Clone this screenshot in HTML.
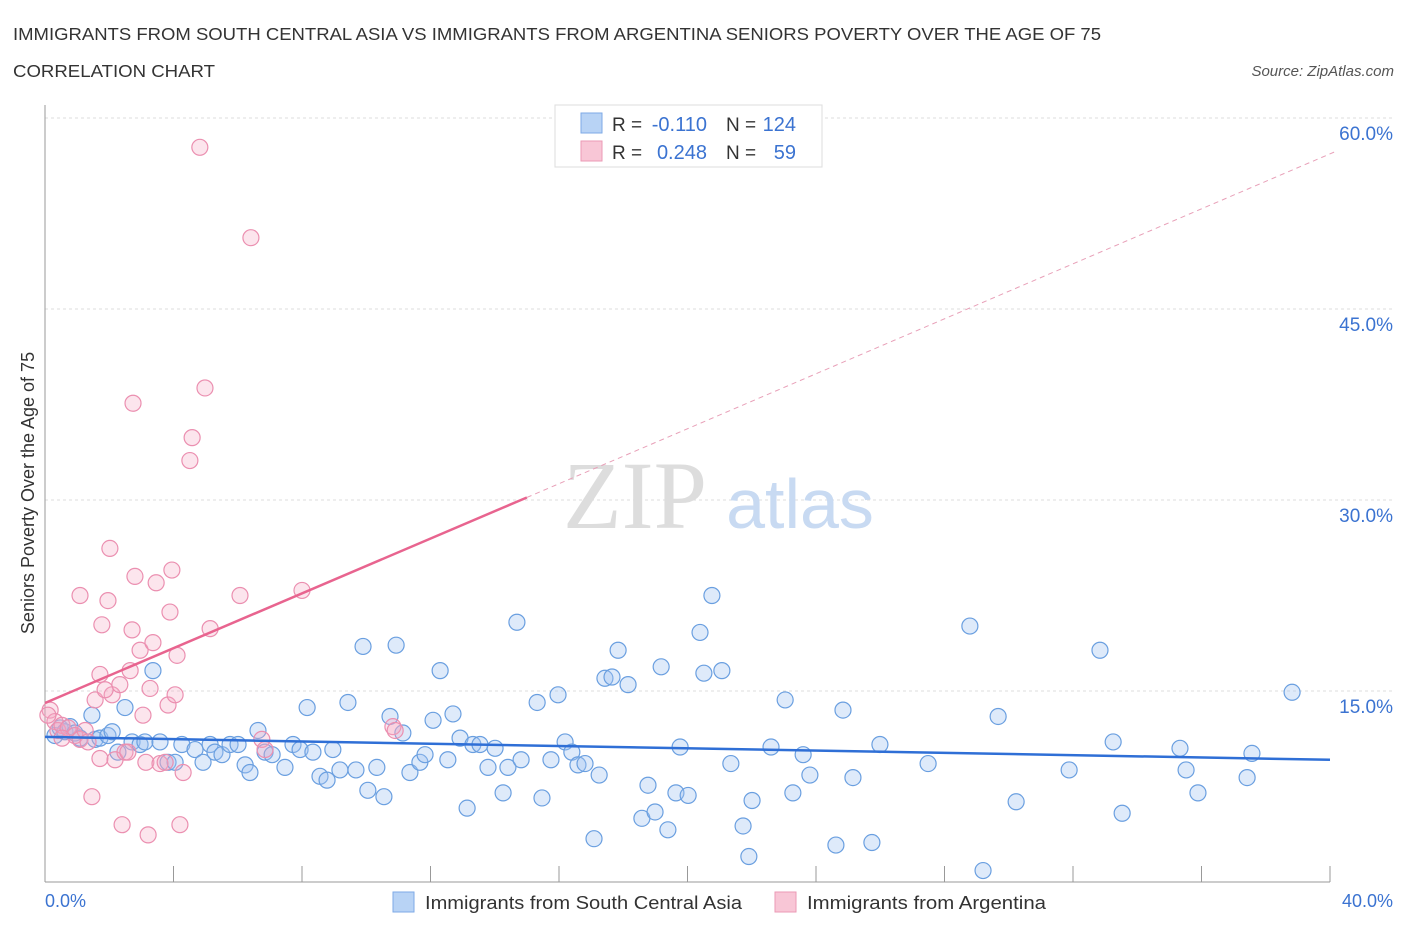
<!DOCTYPE html>
<html><head><meta charset="utf-8"><style>
body{margin:0;background:#fff;font-family:"Liberation Sans",sans-serif;}
svg{display:block}
</style></head><body>
<svg id="chart" width="1406" height="930" xmlns="http://www.w3.org/2000/svg">
<text x="13" y="40" font-size="17.5" fill="#333" textLength="1088" lengthAdjust="spacingAndGlyphs">IMMIGRANTS FROM SOUTH CENTRAL ASIA VS IMMIGRANTS FROM ARGENTINA SENIORS POVERTY OVER THE AGE OF 75</text>
<text x="13" y="77" font-size="17.5" fill="#333" textLength="202" lengthAdjust="spacingAndGlyphs">CORRELATION CHART</text>
<text x="1394" y="76" font-size="15" fill="#555" font-style="italic" text-anchor="end">Source: ZipAtlas.com</text>
<g id="grid"></g>
<text x="635" y="528" font-size="96" fill="#ddd" font-family="Liberation Serif,serif" text-anchor="middle">ZIP</text>
<text x="800" y="528" font-size="70" fill="#c8daf2" text-anchor="middle">atlas</text>
<g id="points"></g>
<g id="trends"></g>
<text transform="translate(34,493) rotate(-90)" font-size="18" fill="#333" text-anchor="middle">Seniors Poverty Over the Age of 75</text>
<text x="45" y="907" font-size="18" fill="#3b73d1">0.0%</text>
<text x="1393" y="907" font-size="18" fill="#3b73d1" text-anchor="end">40.0%</text>
<g>
<rect x="555" y="105" width="267" height="62" fill="#fff" stroke="#ddd"/>
<rect x="581" y="113" width="21" height="20" fill="#b8d3f5" stroke="#7eaae6"/>
<rect x="581" y="141" width="21" height="20" fill="#f8c6d6" stroke="#eb9ab5"/>
<text x="612" y="131" font-size="19" fill="#333">R =</text>
<text x="707" y="131" font-size="20" fill="#3b73d1" text-anchor="end">-0.110</text>
<text x="726" y="131" font-size="19" fill="#333">N =</text>
<text x="796" y="131" font-size="20" fill="#3b73d1" text-anchor="end">124</text>
<text x="612" y="159" font-size="19" fill="#333">R =</text>
<text x="707" y="159" font-size="20" fill="#3b73d1" text-anchor="end">0.248</text>
<text x="726" y="159" font-size="19" fill="#333">N =</text>
<text x="796" y="159" font-size="20" fill="#3b73d1" text-anchor="end">59</text>
</g>
<g>
<rect x="393" y="892" width="21" height="20" fill="#b8d3f5" stroke="#7eaae6"/>
<text x="425" y="909" font-size="18.5" fill="#333" textLength="317" lengthAdjust="spacingAndGlyphs">Immigrants from South Central Asia</text>
<rect x="775" y="892" width="21" height="20" fill="#f8c6d6" stroke="#eb9ab5"/>
<text x="807" y="909" font-size="18.5" fill="#333" textLength="239" lengthAdjust="spacingAndGlyphs">Immigrants from Argentina</text>
</g>
</svg>
<script>
const yTicks=[15,30,45,60];
const yTickLabels=["15.0%","30.0%","45.0%","60.0%"];
const xTicks=[0,4,8,12,16,20,24,28,32,36,40];
const blueX=[0.31,0.47,0.62,0.78,0.93,1.09,1.46,1.56,1.71,1.96,2.09,2.27,2.49,2.71,2.96,3.11,3.36,3.58,3.83,4.05,4.26,4.67,4.92,5.14,5.29,5.51,5.76,6.01,6.23,6.38,6.63,6.85,7.07,7.47,7.72,7.94,8.16,8.34,8.56,8.78,8.96,9.18,9.43,9.68,9.90,10.05,10.33,10.55,10.74,10.93,11.14,11.36,11.67,11.83,12.08,12.30,12.54,12.70,12.92,13.14,13.32,13.54,13.79,14.01,14.26,14.41,14.69,14.82,15.32,15.47,15.75,15.97,16.19,16.40,16.59,16.81,17.09,17.25,17.43,17.65,17.84,18.15,18.58,18.77,18.99,19.18,19.39,19.64,19.77,20.02,20.39,20.51,20.76,21.07,21.35,21.73,21.91,22.01,22.60,23.04,23.28,23.60,23.81,24.62,24.84,25.15,25.74,25.99,27.49,28.79,29.20,29.67,30.23,31.88,32.84,33.25,33.53,35.33,35.52,35.89,37.42,37.57,38.82];
const blueY=[11.5,12.1,11.8,12.2,11.7,11.3,13.1,11.2,11.3,11.5,11.8,10.2,13.7,11.0,10.8,11.0,16.6,11.0,9.4,9.4,10.8,10.4,9.4,10.8,10.2,10.0,10.8,10.8,9.2,8.6,11.9,10.2,10.0,9.0,10.8,10.4,13.7,10.2,8.3,8.0,10.4,8.8,14.1,8.8,18.5,7.2,9.0,6.7,13.0,18.6,11.7,8.6,9.4,10.0,12.7,16.6,9.6,13.2,11.3,5.8,10.8,10.8,9.0,10.5,7.0,9.0,20.4,9.6,14.1,6.6,9.6,14.7,11.0,10.2,9.2,9.3,3.4,8.4,16.0,16.1,18.2,15.5,5.0,7.6,5.5,16.9,4.1,7.0,10.6,6.8,19.6,16.4,22.5,16.6,9.3,4.4,2.0,6.4,10.6,14.3,7.0,10.0,8.4,2.9,13.5,8.2,3.1,10.8,9.3,20.1,0.9,13.0,6.3,8.8,18.2,11.0,5.4,10.5,8.8,7.0,8.2,10.1,14.9];
const pinkX=[0.16,0.31,0.40,0.53,0.72,0.93,1.09,1.25,1.34,1.46,1.56,1.71,1.77,1.96,2.02,2.09,2.18,2.33,2.40,2.49,2.58,2.65,2.71,2.80,2.96,3.05,3.14,3.21,3.27,3.36,3.46,3.58,3.74,3.83,3.89,3.95,4.05,4.11,4.20,4.30,4.51,4.58,4.82,4.98,5.14,6.07,6.41,6.75,6.85,8.00,10.83,10.90,2.74,1.09,1.71,1.87,0.53,0.09];
const pinkY=[13.5,12.6,11.9,12.3,12.1,11.5,11.2,11.9,11.0,6.7,14.3,9.7,20.2,22.1,26.2,14.7,9.6,15.5,4.5,10.2,10.2,16.6,19.8,24.0,18.2,13.1,9.4,3.7,15.2,18.8,23.5,9.3,9.4,13.9,21.2,24.5,14.7,17.8,4.5,8.6,33.1,34.9,57.7,38.8,19.9,22.5,50.6,11.2,10.4,22.9,12.2,11.9,37.6,22.5,16.3,15.1,11.3,13.1];
const blueTrend=[[0,11.4],[40,9.6]];
const pinkTrendSolid=[[0,14.06],[15.0,30.2]];
const pinkTrendDash=[[15.0,30.2],[40.2,57.4]];
const NS='http://www.w3.org/2000/svg';
function sx(v){return 45+v*1285/40;}
function sy(v){return 882-v*12.733;}
function mk(t,a,p){const e=document.createElementNS(NS,t);for(const k in a)e.setAttribute(k,a[k]);p.appendChild(e);return e;}
const grid=document.getElementById('grid');
yTicks.forEach((t,i)=>{
  const l=mk('line',{x1:45,x2:1393,y1:sy(t),y2:sy(t),stroke:'#ddd','stroke-dasharray':'3,3'},grid);
  
  
  const tx=mk('text',{x:1393,y:sy(t)+22,'font-size':19,fill:'#3b73d1','text-anchor':'end'},grid);
  tx.textContent=yTickLabels[i];
  
  
});
const ax=mk('line',{x1:45,x2:45,y1:105,y2:882,stroke:'#999'},grid);


const bx=mk('line',{x1:45,x2:1330,y1:882,y2:882,stroke:'#999'},grid);


xTicks.forEach(t=>{
  const l=mk('line',{x1:sx(t),x2:sx(t),y1:866,y2:882,stroke:'#999'},grid);
  
  
});
const pts=document.getElementById('points');
blueX.forEach((x,i)=>{
  const c=mk('circle',{cx:sx(x),cy:sy(blueY[i]),r:8,fill:'rgba(160,195,240,0.35)',stroke:'#6a9fe0','stroke-width':1.2},pts);
  
  
});
pinkX.forEach((x,i)=>{
  const c=mk('circle',{cx:sx(x),cy:sy(pinkY[i]),r:8,fill:'rgba(245,170,195,0.3)',stroke:'#eb8fb0','stroke-width':1.2},pts);
  
  
});
const tr=document.getElementById('trends');
const b=mk('line',{x1:sx(blueTrend[0][0]),y1:sy(blueTrend[0][1]),x2:sx(blueTrend[1][0]),y2:sy(blueTrend[1][1]),stroke:'#2f6fd6','stroke-width':2.5},tr);


const p=mk('line',{x1:sx(pinkTrendSolid[0][0]),y1:sy(pinkTrendSolid[0][1]),x2:sx(pinkTrendSolid[1][0]),y2:sy(pinkTrendSolid[1][1]),stroke:'#e8648f','stroke-width':2.5},tr);


const pd=mk('line',{x1:sx(pinkTrendDash[0][0]),y1:sy(pinkTrendDash[0][1]),x2:sx(pinkTrendDash[1][0]),y2:sy(pinkTrendDash[1][1]),stroke:'#e8a0b8','stroke-width':1,'stroke-dasharray':'5,4'},tr);


</script>
</body></html>
